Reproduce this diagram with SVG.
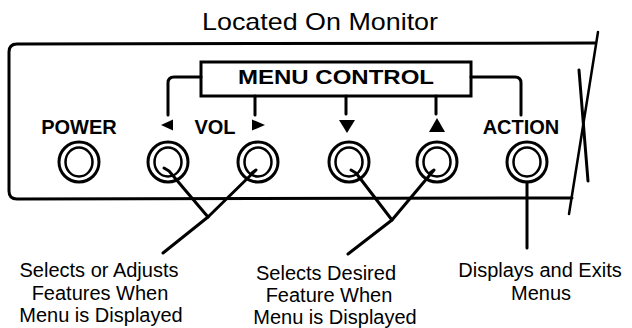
<svg xmlns="http://www.w3.org/2000/svg" width="632" height="328" viewBox="0 0 632 328">
<style>
  .ln{fill:none;stroke:#000;stroke-width:3;stroke-linecap:round;stroke-linejoin:round}
  .thin{fill:none;stroke:#000;stroke-width:2.5;stroke-linecap:round;stroke-linejoin:round}
  .lbl{font-family:"Liberation Sans",Arial,sans-serif;font-weight:bold;font-size:20px;fill:#000;text-anchor:middle}
  .cap{font-family:"Liberation Sans",Arial,sans-serif;font-size:20px;fill:#000;text-anchor:middle}
  .tri{fill:#000}
  .outer{fill:#fff;stroke:#000;stroke-width:3}
  .inner{fill:#fff;stroke:#000;stroke-width:2.5}
</style>
<defs>
  <g id="btn">
    <circle class="outer" cx="0" cy="0" r="20"/>
    <ellipse class="inner" cx="0" cy="0" rx="13.5" ry="14.5"/>
  </g>
</defs>
<rect width="632" height="328" fill="#fff"/>
<text id="title" x="320" y="30" font-family="Liberation Sans, Arial, sans-serif" font-size="24" text-anchor="middle" textLength="236" lengthAdjust="spacingAndGlyphs">Located On Monitor</text>
<g id="panel">
  <path class="ln" d="M595,43 L17,44 Q9,44 9,52 L9,191 Q9,199 17,199 L572,198"/>
  <line class="thin" x1="598" y1="32" x2="569" y2="214"/>
  <line class="ln" x1="579" y1="70" x2="588" y2="181"/>
</g>
<g id="menu-control">
  <rect x="201" y="62" width="270" height="34" fill="#fff" stroke="#000" stroke-width="3"/>
  <text class="lbl" x="336" y="84" font-size="22" textLength="196" lengthAdjust="spacingAndGlyphs">MENU CONTROL</text>
</g>
<g id="power">
  <text class="lbl" x="79" y="134">POWER</text>
  <use href="#btn" x="79" y="162"/>
</g>
<g id="vol-label">
  <text class="lbl" x="215" y="134">VOL</text>
</g>
<g id="vol-left">
  <polygon class="tri" points="161,125 173,119.5 173,130.5"/>
  <use href="#btn" x="168" y="162"/>
</g>
<g id="vol-right">
  <polygon class="tri" points="252,119.5 252,130.5 265,125"/>
  <use href="#btn" x="258" y="162"/>
</g>
<g id="menu-down">
  <polygon class="tri" points="339,120 355,120 347,133"/>
  <use href="#btn" x="349" y="162"/>
</g>
<g id="menu-up">
  <polygon class="tri" points="429,132 445,132 437,118"/>
  <use href="#btn" x="437" y="162"/>
</g>
<g id="action">
  <text class="lbl" x="521" y="134">ACTION</text>
  <use href="#btn" x="527" y="162"/>
</g>
<g id="connectors">
  <path class="ln" d="M201,77 L174,77 Q168,77 168,83 L168,115"/>
  <path class="ln" d="M471,77 L515,77 Q521,77 521,83 L521,115"/>
  <line class="ln" x1="255" y1="96" x2="255" y2="115"/>
  <line class="ln" x1="346" y1="96" x2="346" y2="114"/>
  <line class="ln" x1="436" y1="96" x2="436" y2="114"/>
  <path class="ln" d="M164,168 L169,171 L208,217"/>
  <path class="ln" d="M252,173 L256,170 L208,217 L163,253"/>
  <path class="ln" d="M351,170 L356,173 L392,220"/>
  <path class="ln" d="M430,173 L434,170 L392,220 L348,254"/>
  <line class="ln" x1="527" y1="182" x2="527" y2="248"/>
</g>
<g id="note-vol">
  <text class="cap" x="99" y="277">Selects or Adjusts</text>
  <text class="cap" x="100" y="300">Features When</text>
  <text class="cap" x="101" y="322">Menu is Displayed</text>
</g>
<g id="note-menu">
  <text class="cap" x="326" y="280">Selects Desired</text>
  <text class="cap" x="329" y="302">Feature When</text>
  <text class="cap" x="335" y="324">Menu is Displayed</text>
</g>
<g id="note-action">
  <text class="cap" x="540" y="277">Displays and Exits</text>
  <text class="cap" x="541" y="300">Menus</text>
</g>
</svg>
